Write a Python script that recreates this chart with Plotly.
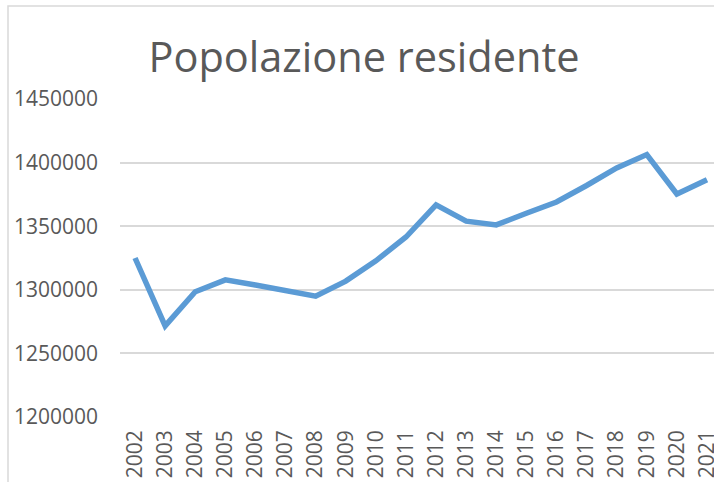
import plotly.graph_objects as go

years = [str(y) for y in range(2002, 2022)]
popolazione = [1325000, 1271600, 1298500, 1307800, 1303800, 1299400, 1295000,
               1306800, 1322800, 1341500, 1366800, 1354000, 1351000, 1360200,
               1369000, 1382000, 1395800, 1406300, 1375300, 1386500]
y_ticks = [1200000, 1250000, 1300000, 1350000, 1400000, 1450000]

TXT = "#595959"
FONT = "Open Sans"

fig = go.Figure()
fig.add_trace(go.Scatter(
    x=years, y=popolazione, mode="lines",
    line=dict(color="#5B9BD5", width=5.5),
    hoverinfo="skip", showlegend=False,
))

fig.update_layout(
    width=714, height=482,
    margin=dict(l=120, r=0, t=99, b=65, autoexpand=False),
    paper_bgcolor="white", plot_bgcolor="white",
    title=dict(text="Popolazione residente", x=364/714, xanchor="center",
               xref="container", y=1-57/482, yanchor="middle", yref="container",
               font=dict(family=FONT, size=41.5, color=TXT), automargin=False),
    xaxis=dict(type="category", range=[-0.5, 19.233], showgrid=False,
               showline=False, zeroline=False, tickangle=-90, automargin=False,
               tickfont=dict(family=FONT, size=21, color=TXT),
               ticklabelstandoff=8),
    yaxis=dict(range=[1200000, 1450000], tickvals=y_ticks,
               ticktext=[str(v) for v in y_ticks], automargin=False,
               showgrid=True, gridcolor="#d9d9d9", gridwidth=1.5,
               zeroline=False, showline=False,
               tickfont=dict(family=FONT, size=21, color=TXT),
               ticklabelstandoff=21),
    shapes=[dict(type="rect", xref="paper", yref="paper",
                 xsizemode="pixel", ysizemode="pixel", xanchor=0, yanchor=1,
                 x0=-112, x1=700, y0=93, y1=-500,
                 line=dict(color="#d9d9d9", width=1.5), layer="below")],
)

fig.write_html(
    "out.html",
    config={"displayModeBar": False},
    post_script="document.body.style.margin='0';document.body.style.overflow='hidden';",
)
